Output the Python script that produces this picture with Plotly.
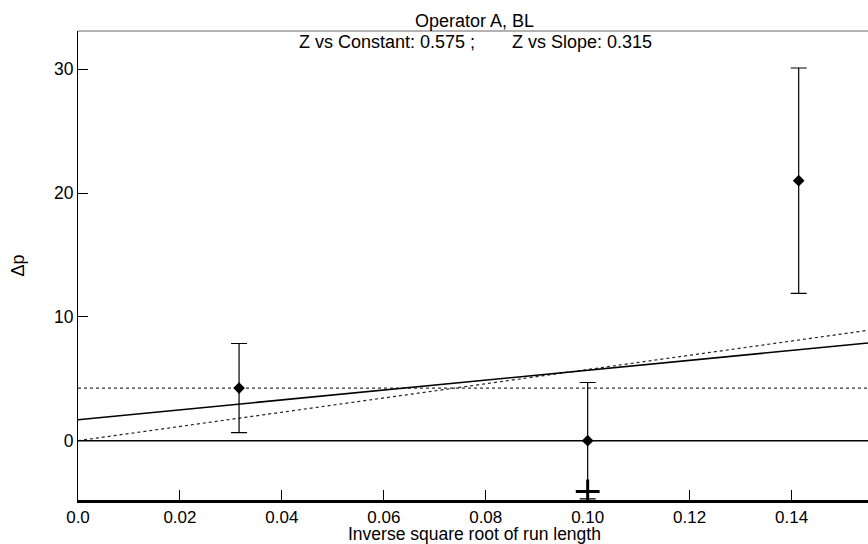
import plotly.graph_objects as go

# Measurements: inverse square root of run length vs. delta p
x_pts = [0.0316, 0.1000, 0.1414]
y_pts = [4.25, 0.0, 21.0]
y_err = [3.6, 4.7, 9.1]

# Flagged observation
x_flag = [0.1000]
y_flag = [-4.1]

# Fitted models
x_fit = [0.0, 0.155]
const_level = 4.25          # constant model
lin_intercept = 1.69        # linear model with free intercept
lin_slope = 40.0
origin_slope = 57.5         # slope model through the origin

x_ticks = [0.0, 0.02, 0.04, 0.06, 0.08, 0.10, 0.12, 0.14]
x_tick_text = ["0.0", "0.02", "0.04", "0.06", "0.08", "0.10", "0.12", "0.14"]
y_ticks = [0, 10, 20, 30]

FONT = "Liberation Sans, Arial, Helvetica, sans-serif"

fig = go.Figure()

# zero reference
fig.add_trace(go.Scatter(x=x_fit, y=[0, 0], mode="lines",
                         line=dict(color="black", width=1.5), hoverinfo="skip"))
# constant model
fig.add_trace(go.Scatter(x=x_fit, y=[const_level] * len(x_fit), mode="lines",
                         line=dict(color="#333333", width=1.2, dash="dot"), hoverinfo="skip"))
# slope through origin
fig.add_trace(go.Scatter(x=x_fit, y=[origin_slope * v for v in x_fit], mode="lines",
                         line=dict(color="#222222", width=1.2, dash="dot"), hoverinfo="skip"))
# linear fit
fig.add_trace(go.Scatter(x=x_fit, y=[lin_intercept + lin_slope * v for v in x_fit], mode="lines",
                         line=dict(color="black", width=1.6), hoverinfo="skip"))

# data with error bars
fig.add_trace(go.Scatter(
    x=x_pts, y=y_pts, mode="markers",
    marker=dict(symbol="diamond", size=9, color="black"),
    error_y=dict(type="data", array=y_err, visible=True, color="black",
                 thickness=1.2, width=8),
))

# flagged point
fig.add_trace(go.Scatter(
    x=x_flag, y=y_flag, mode="markers",
    marker=dict(symbol="cross-thin", size=17, color="black",
                line=dict(color="black", width=3)),
))

# top frame line
fig.add_shape(type="line", xref="paper", yref="paper", x0=0, x1=1, y0=1, y1=1,
              line=dict(color="#666666", width=1))

ann_font = dict(family=FONT, size=18, color="black")
fig.add_annotation(text="Operator A, BL", xref="paper", yref="paper",
                   x=0.5025, y=1.022, xanchor="center", yanchor="middle",
                   showarrow=False, font=ann_font)
fig.add_annotation(text="Z vs Constant: 0.575 ;", xref="paper", yref="paper",
                   x=0.505, y=0.977, xanchor="right", yanchor="middle",
                   showarrow=False, font=ann_font)
fig.add_annotation(text="Z vs Slope: 0.315", xref="paper", yref="paper",
                   x=0.547, y=0.977, xanchor="left", yanchor="middle",
                   showarrow=False, font=ann_font)
fig.add_annotation(text="Inverse square root of run length", xref="paper", yref="paper",
                   x=0.502, y=-0.0715, xanchor="center", yanchor="middle",
                   showarrow=False, font=dict(family=FONT, size=17.5, color="black"))
fig.add_annotation(text="Δp", xref="paper", yref="paper",
                   x=-0.0772, y=0.5, xanchor="center", yanchor="middle",
                   textangle=-90, showarrow=False, font=ann_font)

fig.update_layout(
    width=868, height=544,
    margin=dict(l=78, r=0, t=31, b=44),
    paper_bgcolor="white", plot_bgcolor="white",
    showlegend=False,
    font=dict(family=FONT, size=18, color="black"),
    xaxis=dict(range=[0, 0.155], tickvals=x_ticks, ticktext=x_tick_text,
               ticks="inside", ticklen=10, tickwidth=1.2, tickcolor="black",
               tickfont=dict(family=FONT, size=17, color="black"),
               showline=True, linecolor="black", linewidth=2.5,
               showgrid=False, zeroline=False),
    yaxis=dict(range=[-4.79, 33.09], tickvals=y_ticks,
               ticks="inside", ticklen=10, tickwidth=1.2, tickcolor="black",
               tickfont=dict(family=FONT, size=17.5, color="black"),
               showline=True, linecolor="black", linewidth=1.2,
               showgrid=False, zeroline=False),
)

fig.write_html("out.html")
